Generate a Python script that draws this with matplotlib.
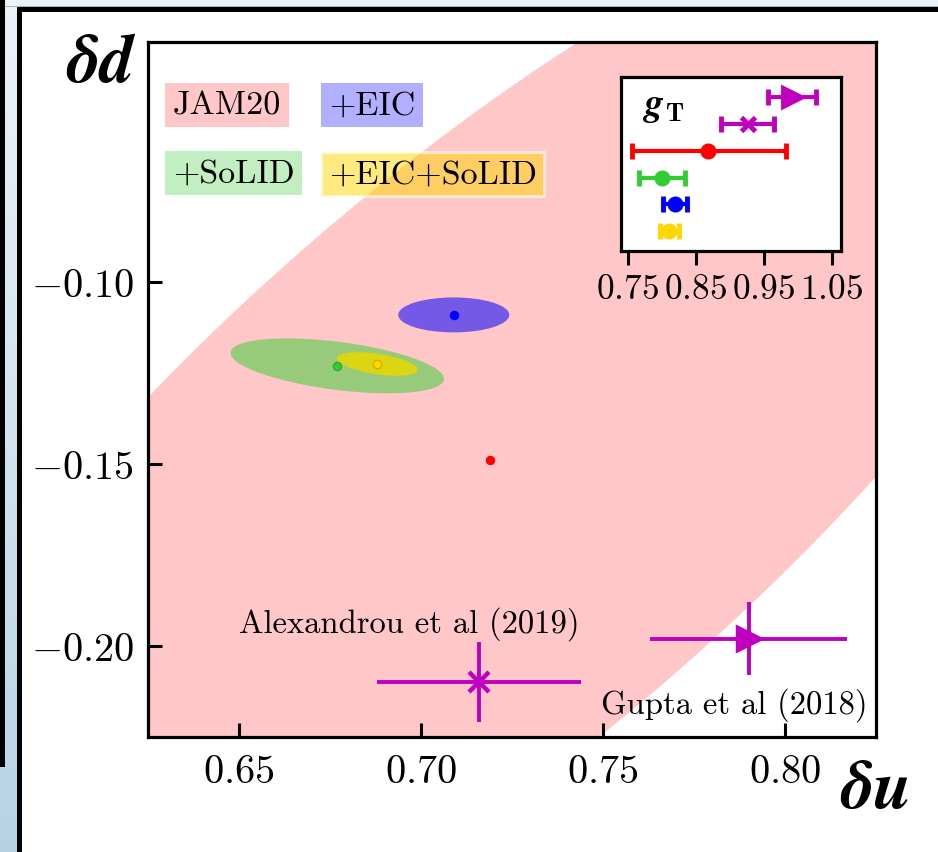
import matplotlib
matplotlib.use('Agg')
import matplotlib.pyplot as plt
from matplotlib.patches import Ellipse, Rectangle
from matplotlib.colors import LinearSegmentedColormap
import numpy as np

plt.rcParams['mathtext.fontset'] = 'cm'
plt.rcParams['font.family'] = ['cmr10', 'DejaVu Serif']
plt.rcParams['axes.formatter.use_mathtext'] = True

# ---------------- data ----------------
groups = ['JAM20', '+EIC', '+SoLID', '+EIC+SoLID']
group_du = [0.719, 0.709, 0.677, 0.688]
group_dd = [-0.149, -0.109, -0.123, -0.1225]
ell_width = [0.460, 0.0305, 0.0591, 0.0224]
ell_height = [0.155, 0.0096, 0.0132, 0.0056]
ell_angle = [41.1, 0.0, -7.3, -8.6]

lattice = ['Alexandrou et al (2019)', 'Gupta et al (2018)']
lat_du = [0.716, 0.790]
lat_du_err = [0.028, 0.027]
lat_dd = [-0.210, -0.198]
lat_dd_err = [0.011, 0.010]
lat_marker = ['x', '>']

gT_names = ['Gupta et al (2018)', 'Alexandrou et al (2019)', 'JAM20', '+SoLID', '+EIC', '+EIC+SoLID']
gT_val = [0.991, 0.9265, 0.8686, 0.800, 0.8196, 0.811]
gT_lo = [0.956, 0.887, 0.756, 0.7666, 0.8024, 0.7975]
gT_hi = [1.0265, 0.9656, 0.982, 0.835, 0.8368, 0.826]

x_ticks = [0.65, 0.70, 0.75, 0.80]
y_ticks = [-0.10, -0.15, -0.20]
gT_ticks = [0.75, 0.85, 0.95, 1.05]

# ---------------- figure ----------------
W, H = 938, 853
fig = plt.figure(figsize=(W / 100, H / 100), dpi=100)

# screenshot frame decoration
bg = fig.add_axes([0, 0, 1, 1], zorder=-10)
bg.axis('off')
bg.add_patch(Rectangle((0, 0), W, 8, color='#eef3f7', lw=0))
bg.add_patch(Rectangle((0, 7), W, 1.2, color='#a9b3ba', lw=0))
grad = np.linspace(0, 1, 256)[:, None]
cm_strip = LinearSegmentedColormap.from_list('s', ['#edf3f8', '#b6d3e6'])
bg.imshow(grad, cmap=cm_strip, extent=(0, 18, H, 0), aspect='auto', zorder=0)
bg.add_patch(Rectangle((0, 0), 5, 768, color='black', lw=0, zorder=2))
bg.add_patch(Rectangle((17, 8), 5, H, color='black', lw=0, zorder=2))
bg.add_patch(Rectangle((17, 8), W, 5, color='black', lw=0, zorder=2))
bg.set_xlim(0, W)
bg.set_ylim(H, 0)

ax = fig.add_axes([148 / W, 1 - 738 / H, 728 / W, 695 / H])
ax.set_xlim(0.625, 0.825)
ax.set_ylim(-0.225, -0.034)

fill_colors = ['red', 'blue', 'limegreen', '#e8d800']
fill_alpha = [0.22, 0.55, 0.5, 0.85]
for i in range(4):
    ax.add_patch(Ellipse((group_du[i], group_dd[i]), ell_width[i], ell_height[i],
                         angle=ell_angle[i], facecolor=fill_colors[i],
                         alpha=fill_alpha[i], lw=0, zorder=1 + i))

pt_face = ['red', 'blue', 'limegreen', 'gold']
pt_edge = ['red', 'blue', '#30a030', '#e0a000']
for i in range(4):
    ax.plot(group_du[i], group_dd[i], 'o', ms=6, mfc=pt_face[i], mec=pt_edge[i],
            mew=0.8, zorder=10)

for i in range(2):
    ax.errorbar(lat_du[i], lat_dd[i], xerr=lat_du_err[i], yerr=lat_dd_err[i],
                fmt=lat_marker[i], color='m', ms=14 if i == 0 else 16, mew=3.2,
                elinewidth=2.8, capsize=0, zorder=12)

ax.text(0.3585, 0.164, lattice[0], transform=ax.transAxes, ha='center', va='center',
        fontsize=23.5)
ax.text(0.8056, 0.047, lattice[1], transform=ax.transAxes, ha='center', va='center',
        fontsize=23.5)

# legend-like boxes
box_colors = [(1, 0, 0, 0.22), (0, 0, 1, 0.31), (0.196, 0.804, 0.196, 0.3), (1, 0.84, 0, 0.5)]
box_pos = [(0.0343, 0.910), (0.2486, 0.910), (0.0343, 0.811), (0.2486, 0.810)]
for i in range(4):
    ec = (1, 1, 1, 0.6) if i == 3 else 'none'
    ax.text(box_pos[i][0], box_pos[i][1], groups[i], transform=ax.transAxes,
            ha='left', va='center', fontsize=24.5, zorder=20,
            bbox=dict(boxstyle='square,pad=0.22', fc=box_colors[i], ec=ec, lw=2))

ax.set_xticks(x_ticks)
ax.set_xticklabels([r'$%.2f$' % v for v in x_ticks])
ax.set_yticks(y_ticks)
ax.set_yticklabels([r'$%.2f$' % v for v in y_ticks])
ax.tick_params(direction='in', length=10, width=2.2, labelsize=29, pad=10,
               top=False, right=False)
ax.tick_params(axis='x', pad=12)
for s in ax.spines.values():
    s.set_linewidth(2.3)

fig.text(102 / W, 1 - 64 / H, r'$\boldsymbol{\delta d}$', fontsize=49, ha='center', va='center')
fig.text(875 / W, 1 - 790 / H, r'$\boldsymbol{\delta u}$', fontsize=49, ha='center', va='center')

# inset
ins = fig.add_axes([620.7 / W, 1 - 252.3 / H, 220 / W, 174 / H], zorder=30)
ins.set_facecolor('white')
ins.set_xlim(0.74, 1.063)
ins.set_ylim(0.25, 6.75)
ycoords = np.arange(len(gT_val), 0, -1)
ins_colors = ['m', 'm', 'red', 'limegreen', 'blue', 'gold']
ins_markers = ['>', 'x', 'o', 'o', 'o', 'o']
ins_ms = [13, 10, 8, 8, 8, 8]
for i in range(len(gT_val)):
    ins.errorbar(gT_val[i], ycoords[i],
                 xerr=[[gT_val[i] - gT_lo[i]], [gT_hi[i] - gT_val[i]]],
                 fmt=ins_markers[i], color=ins_colors[i], ms=ins_ms[i], mew=3.5,
                 elinewidth=3, capsize=5.5, capthick=3)
ins.set_yticks([])
ins.set_xticks(gT_ticks)
ins.set_xticklabels([r'$%.2f$' % v for v in gT_ticks])
ins.tick_params(axis='x', direction='out', length=10, width=2.2, labelsize=25.5, pad=6)
for s in ins.spines.values():
    s.set_linewidth(2.3)
ins.text(0.1, 0.83, r'$\boldsymbol{g}_{\mathbf{T}}$', transform=ins.transAxes,
         fontsize=27, ha='left', va='center')

fig.savefig('out.png', dpi=100)
